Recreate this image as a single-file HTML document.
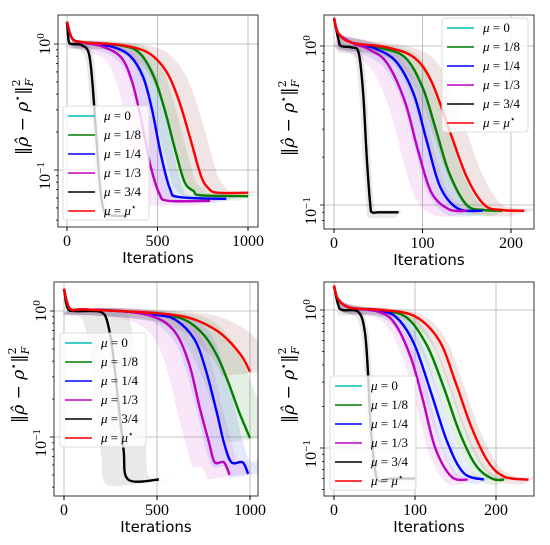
<!DOCTYPE html>
<html><head><meta charset="utf-8">
<style>
html,body{margin:0;padding:0;background:#fff;}
svg{display:block;}
.tk{font-family:"Liberation Serif",serif;font-size:16px;fill:#000;}
.yl{font-family:"DejaVu Serif","Liberation Serif",serif;font-size:17px;fill:#000;}
.lg{font-family:"Liberation Serif",serif;font-size:13px;fill:#000;}
.xl{font-family:"DejaVu Sans","Liberation Sans",sans-serif;font-size:15px;fill:#000;}
</style></head>
<body>
<svg id="chart" width="550" height="545" viewBox="0 0 550 545" xmlns="http://www.w3.org/2000/svg"></svg>
<script>
// ---------- DATA ----------
const seriesNames = ["μ = 0","μ = 1/8","μ = 1/4","μ = 1/3","μ = 3/4","μ = μ*"];
const xTicks1 = [0,500,1000];
const xTicks2 = [0,100,200];
const yTickVals = [1,0.1];
// Panel 1
const p1GreenX=[0,30,100,300,400,480,540,600,650,700,740,1000];
const p1GreenY=[1.5,1.1,1.03,0.97,0.85,0.55,0.3,0.14,0.08,0.068,0.063,0.062];
const p1BlueX=[0,30,100,250,350,420,470,520,570,620,880];
const p1BlueY=[1.5,1.1,1.02,0.95,0.8,0.55,0.3,0.13,0.07,0.061,0.059];
const p1MagX=[0,30,100,200,300,360,410,460,510,560,790];
const p1MagY=[1.5,1.1,1.02,0.95,0.78,0.5,0.25,0.11,0.065,0.057,0.057];
const p1BlackX=[0,10,30,80,120,140,160,180,200,230,330];
const p1BlackY=[1.5,1.05,1.0,0.98,0.85,0.5,0.2,0.08,0.05,0.044,0.043];
const p1RedX=[0,30,100,300,450,550,620,680,740,780,830,1000];
const p1RedY=[1.5,1.1,1.03,0.98,0.85,0.6,0.35,0.18,0.09,0.072,0.066,0.066];
// Panel 2
const p2GreenX=[0,5,20,50,80,100,115,130,150,170,190];
const p2GreenY=[1.5,1.2,1.05,0.98,0.85,0.55,0.3,0.16,0.1,0.093,0.092];
const p2BlueX=[0,5,20,45,70,90,105,120,140,168];
const p2BlueY=[1.5,1.2,1.05,0.97,0.8,0.5,0.25,0.13,0.095,0.092];
const p2MagX=[0,5,20,40,60,80,95,110,130,150];
const p2MagY=[1.5,1.2,1.05,0.95,0.78,0.45,0.22,0.12,0.094,0.092];
const p2BlackX=[0,5,8,20,28,33,37,41,43,50,73];
const p2BlackY=[1.5,1.1,1.0,0.98,0.9,0.5,0.2,0.1,0.09,0.09,0.09];
const p2RedX=[0,5,20,60,90,110,130,150,170,190,215];
const p2RedY=[1.5,1.2,1.05,0.98,0.85,0.6,0.3,0.15,0.1,0.093,0.092];
// Panel 3
const p3GreenX=[0,30,100,300,500,650,750,820,880,940,1000];
const p3GreenY=[1.5,1.05,1.03,1.0,0.95,0.85,0.65,0.45,0.28,0.16,0.098];
const p3BlueX=[0,30,100,300,500,600,700,760,820,860,900,960,990];
const p3BlueY=[1.5,1.05,1.03,1.0,0.93,0.85,0.6,0.35,0.16,0.09,0.063,0.063,0.051];
const p3MagX=[0,30,100,300,450,550,620,680,730,780,810,860,890];
const p3MagY=[1.5,1.05,1.03,1.0,0.93,0.8,0.6,0.35,0.17,0.09,0.063,0.063,0.05];
const p3BlackX=[0,20,60,150,200,230,260,290,320,345,510];
const p3BlackY=[1.5,1.05,1.0,1.0,0.98,0.85,0.5,0.2,0.08,0.046,0.046];
const p3RedX=[0,30,100,300,500,650,750,850,950,1000];
const p3RedY=[1.5,1.05,1.03,1.0,0.96,0.9,0.8,0.65,0.45,0.33];
// Panel 4
const p4GreenX=[0,5,20,60,90,115,135,155,175,195,210];
const p4GreenY=[1.5,1.2,1.04,0.99,0.88,0.55,0.28,0.13,0.075,0.06,0.059];
const p4BlueX=[0,5,20,60,80,100,120,140,160,185];
const p4BlueY=[1.5,1.2,1.04,0.98,0.85,0.55,0.25,0.11,0.066,0.059];
const p4MagX=[0,5,20,55,75,95,110,125,145,165];
const p4MagY=[1.5,1.2,1.04,0.97,0.8,0.45,0.22,0.1,0.062,0.059];
const p4BlackX=[0,5,10,30,38,42,45,50,55,70,100];
const p4BlackY=[1.5,1.1,1.0,0.97,0.7,0.35,0.15,0.075,0.058,0.06,0.06];
const p4RedX=[0,5,20,60,100,130,150,170,190,210,240];
const p4RedY=[1.5,1.2,1.04,1.0,0.9,0.6,0.3,0.14,0.08,0.062,0.059];
// band half-widths (iterations): green, blue, magenta, black, red
const bandSpread1 = [60,70,80,20,90];
const bandSpread2 = [14,14,18,4,18];
const bandSpread3 = [120,100,120,120,150];
const bandSpread4 = [8,8,8,4,8];

// ---------- RENDER ----------
const NS="http://www.w3.org/2000/svg";
const svg=document.getElementById('chart');
function mk(tag,attrs,parent){const e=document.createElementNS(NS,tag);for(const k in attrs)e.setAttribute(k,attrs[k]);(parent||svg).appendChild(e);return e;}
const colors=["#00bfbf","#007f00","#0000ff","#bf00bf","#000000","#ff0000"];
const bandColors=["#00bfbf","#2a8a2a","#3355ff","#d040d0","#555555","#8a3030"];
function smooth(pts){
  let d='M'+pts[0][0]+','+pts[0][1];
  for(let i=0;i<pts.length-1;i++){
    const p0=pts[Math.max(0,i-1)],p1=pts[i],p2=pts[i+1],p3=pts[Math.min(pts.length-1,i+2)];
    const c1x=p1[0]+(p2[0]-p0[0])/6,c1y=p1[1]+(p2[1]-p0[1])/6;
    const c2x=p2[0]-(p3[0]-p1[0])/6,c2y=p2[1]-(p3[1]-p1[1])/6;
    d+=` C${c1x},${c1y} ${c2x},${c2y} ${p2[0]},${p2[1]}`;
  }
  return d;
}

const panels=[
 {id:1,box:[58,15,258,227],x0:67,kx:0.181,y1:44,dec:126,xt:xTicks1,legend:[63,106],bs:bandSpread1,
  series:[[p1GreenX,p1GreenY,1],[p1BlueX,p1BlueY,2],[p1MagX,p1MagY,3],[p1BlackX,p1BlackY,4],[p1RedX,p1RedY,5]]},
 {id:2,box:[324,15,534,229],x0:334,kx:0.885,y1:46,dec:159,xt:xTicks2,legend:[442,18],bs:bandSpread2,
  series:[[p2GreenX,p2GreenY,1],[p2BlueX,p2BlueY,2],[p2MagX,p2MagY,3],[p2BlackX,p2BlackY,4],[p2RedX,p2RedY,5]]},
 {id:3,box:[54,282,258,496],x0:64,kx:0.186,y1:311,dec:126,xt:xTicks1,legend:[60,333],bs:bandSpread3,
  series:[[p3GreenX,p3GreenY,1],[p3BlueX,p3BlueY,2],[p3MagX,p3MagY,3],[p3BlackX,p3BlackY,4],[p3RedX,p3RedY,5]]},
 {id:4,box:[324,282,534,496],x0:334,kx:0.81,y1:310,dec:138,xt:xTicks2,legend:[330,376],bs:bandSpread4,
  series:[[p4GreenX,p4GreenY,1],[p4BlueX,p4BlueY,2],[p4MagX,p4MagY,3],[p4BlackX,p4BlackY,4],[p4RedX,p4RedY,5]]}
];

panels.forEach((p,pi)=>{
  const xs=v=>p.x0+v*p.kx;
  const ys=v=>p.y1-Math.log10(v)*p.dec;
  const [L,T,R,B]=p.box;
  const g=mk('g',{});
  
  
  const cp=mk('clipPath',{id:'cp'+p.id},g);
  mk('rect',{x:L,y:T,width:R-L,height:B-T},cp);
  p.xt.forEach(t=>{const l=mk('line',{x1:xs(t),x2:xs(t),y1:T,y2:B,stroke:'#b0b0b0','stroke-width':0.8},g);
    });
  yTickVals.forEach(t=>{const l=mk('line',{x1:L,x2:R,y1:ys(t),y2:ys(t),stroke:'#b0b0b0','stroke-width':0.8},g);
    });
  const plot=mk('g',{'clip-path':'url(#cp'+p.id+')'},g);
  p.series.forEach(([X,Y,ci],si)=>{
    const sp=p.bs[si];
    const up=X.map((x,i)=>[xs(Math.max(0,x+sp*(i>1?1:0))),ys(Y[i]*(i>1?1.03:1))]);
    const lo=X.map((x,i)=>[xs(Math.max(0,x-sp*(i>1?1:0))),ys(Y[i]*(i>1?0.92:1))]).reverse();
    const d=smooth(up)+' L'+lo[0][0]+','+lo[0][1]+smooth(lo).replace(/^M[^C]*/,'')+' Z';
    const b=mk('path',{d:d,fill:bandColors[ci],'fill-opacity':0.13,stroke:'none'},plot);
    
  });
  p.series.forEach(([X,Y,ci])=>{
    const l=mk('path',{d:smooth(X.map((x,i)=>[xs(x),ys(Y[i])])),fill:'none',stroke:colors[ci],'stroke-width':2.4,'stroke-linejoin':'round'},plot);
    
  });
  const fr=mk('rect',{x:L,y:T,width:R-L,height:B-T,fill:'none',stroke:'#333','stroke-width':1},g);
  
  p.xt.forEach(t=>{mk('line',{x1:xs(t),x2:xs(t),y1:B,y2:B+4,stroke:'#000'},g);
    const tx=mk('text',{x:xs(t),y:B+19,'text-anchor':'middle',class:'tk'},g);tx.textContent=t;
    });
  for(let d=-2;d<=0;d++)for(let m=1;m<10;m++){const v=m*Math.pow(10,d);const y=ys(v);
    if(y<T||y>B)continue;mk('line',{x1:L-(m==1?4:2),x2:L,y1:y,y2:y,stroke:'#000','stroke-width':0.8},g);}
  yTickVals.forEach(t=>{const y=ys(t)+(t<1?6:0);
    const tx=mk('text',{x:0,y:0,'text-anchor':'middle',class:'tk',transform:`translate(${L-8},${y}) rotate(-90)`},g);
    tx.innerHTML='10<tspan dy="-6" font-size="11">'+(t<1?'−1':'0')+'</tspan>';
    });
  const xl=mk('text',{x:(L+R)/2,y:B+36,'text-anchor':'middle',class:'xl'},g);xl.textContent='Iterations';
  
  const yl=mk('text',{x:0,y:0,'text-anchor':'middle',class:'yl',transform:`translate(${L-30},${(T+B)/2-4}) rotate(-90)`},g);
  yl.innerHTML='‖<tspan font-style="italic">ρ̂</tspan> − <tspan font-style="italic">ρ</tspan><tspan dy="-7" font-size="11">⋆</tspan><tspan dy="7">‖</tspan><tspan dy="-8" font-size="11">2</tspan><tspan dx="-7" dy="13" font-size="11" font-style="italic">F</tspan>';
  
  const [lx,ly]=p.legend;
  const lgb=mk('rect',{x:lx,y:ly,width:86,height:114,rx:3,fill:'#fff','fill-opacity':0.8,stroke:'#ddd'},g);
  
  seriesNames.forEach((n,i)=>{const y=ly+10+i*19;
    const ll=mk('line',{x1:lx+5,x2:lx+32,y1:y,y2:y,stroke:colors[i],'stroke-width':1.6},g);
    
    const t=mk('text',{x:lx+41,y:y+4,class:'lg'},g);
    t.innerHTML='<tspan font-style="italic">μ</tspan> = '+(i==5?'<tspan font-style="italic">μ</tspan><tspan dy="-5" font-size="9">⋆</tspan>':n.split('= ')[1]);
    });
});
</script>
</body></html>
